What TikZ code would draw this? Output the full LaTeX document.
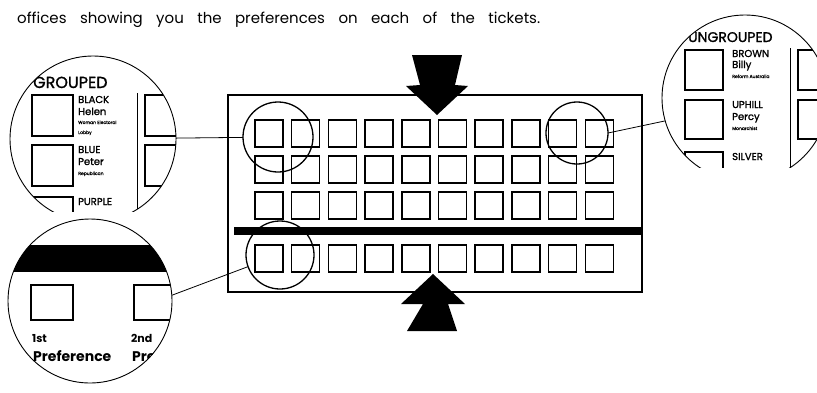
\documentclass[tikz,border=0pt]{standalone}
\usepackage{fontspec}
\setmainfont{Poppins}
\newfontfamily\ballotfont{Poppins}[FakeBold=1.3]

\tikzset{
  votebox/.style={draw,line width=1.5pt},
  lens/.style={draw,circle,line width=1.3pt,inner sep=0pt,outer sep=0pt},
  inset/.style={circle,inner sep=0pt,outer sep=0pt},
  insetbox/.style={draw,line width=1.8pt},
  head/.style={anchor=base west,inner sep=0pt},
  cand/.style={anchor=base west,inner sep=0pt,font=\ballotfont\fontsize{10}{10}\selectfont},
  party/.style={anchor=base west,inner sep=0pt,font=\ballotfont\fontsize{4.5}{5}\selectfont},
  leader/.style={draw,line width=0.8pt}
}

\begin{document}
\begin{tikzpicture}[x=1pt,y=-1pt]
\useasboundingbox (0,0) rectangle (817,392);

% sentence above the picture
\node[head,font=\fontsize{15}{17}\selectfont] (caption) at (17,23)
  {\makebox[523pt][s]{offices showing you the preferences on each of the tickets.}};

% the ballot paper
\draw[line width=2.6pt] (228,95) rectangle (642,292);
\fill (234,227) rectangle (642,235);
\foreach \r in {120,156,192,245}
  \foreach \c in {0,...,9}
    \draw[votebox] (255+36.7*\c,\r) rectangle ++(28,27);

% arrows
\fill (412,55) -- (462,55) -- (455,85) -- (468,86) -- (437,115) -- (406,86) -- (420,85) -- cycle;
\fill (433,274) -- (465,304) -- (448,304) -- (457,331) -- (407,331) -- (423,304) -- (401,304) -- cycle;

% small circles on the ballot
\node[lens,minimum size=70pt] (lensTL) at (278,137) {};
\node[lens,minimum size=62pt] (lensTR) at (577,133) {};
\node[lens,minimum size=68pt] (lensBL) at (280,255) {};

% enlarged views
\node[inset,minimum size=166pt] (bigTL) at (93,139) {};
\node[inset,minimum size=166pt] (bigTR) at (745,98) {};
\node[inset,minimum size=164pt] (bigBL) at (90,301) {};

% grouped
\begin{scope}
\clip (bigTL.center) circle (83pt);
\clip (0,0) rectangle (817,211);
\node[head,font=\ballotfont\fontsize{16}{16}\selectfont] (grouped) at (33,88) {GROUPED};
\draw[insetbox] (32,95) rectangle (73,136);
\draw[insetbox] (32,145) rectangle (73,186);
\draw[insetbox] (32,197) rectangle (73,238);
\draw[insetbox] (145,95) rectangle (186,136);
\draw[insetbox] (145,145) rectangle (186,186);
\draw[line width=0.8pt] (137,93) -- (137,215);
\node[cand] (black) at (78,103) {BLACK};
\node[cand] (helen) at (78,115) {Helen};
\node[party] (wel1) at (78,124) {Woman Electoral};
\node[party] (wel2) at (78,134) {Lobby};
\node[cand] (blue) at (78,153) {BLUE};
\node[cand] (peter) at (78,165) {Peter};
\node[party] (rep) at (78,175) {Republican};
\node[cand] (purple) at (78,205) {PURPLE};
\end{scope}
\begin{scope}
\clip (0,0) rectangle (817,211);
\draw[line width=0.9pt] (bigTL.center) circle (83pt);
\end{scope}

% ungrouped
\begin{scope}
\clip (bigTR.center) circle (83pt);
\clip (0,0) rectangle (817,167);
\node[head,font=\ballotfont\fontsize{14}{14}\selectfont] (ungrouped) at (688,42) {UNGROUPED};
\draw[insetbox] (685,50) rectangle (723,90);
\draw[insetbox] (685,100) rectangle (723,139);
\draw[insetbox] (685,152) rectangle (723,190);
\draw[insetbox] (798,50) rectangle (836,90);
\draw[insetbox] (798,100) rectangle (836,139);
\draw[line width=0.8pt] (790,48) -- (790,170);
\node[cand] (brown) at (732,57) {BROWN};
\node[cand] (billy) at (732,68) {Billy};
\node[party] (ra) at (732,78) {Reform Australia};
\node[cand] (uphill) at (732,108) {UPHILL};
\node[cand] (percy) at (732,120) {Percy};
\node[party] (mon) at (732,130) {Monarchist};
\node[cand] (silver) at (732,160) {SILVER};
\end{scope}
\begin{scope}
\clip (0,0) rectangle (817,167);
\draw[line width=0.9pt] (bigTR.center) circle (83pt);
\end{scope}

% preferences
\begin{scope}
\clip (bigBL.center) circle (82pt);
\fill (0,245) rectangle (200,272);
\draw[insetbox] (31,285) rectangle (73,320);
\draw[insetbox] (134,285) rectangle (176,320);
\node[head,font=\fontsize{11}{11}\bfseries] (first) at (32,342) {1st};
\node[head,font=\fontsize{14}{14}\bfseries] (pref1) at (33,361) {Preference};
\node[head,font=\fontsize{11}{11}\bfseries] (second) at (131,342) {2nd};
\node[head,font=\fontsize{14}{14}\bfseries] (pref2) at (132,361) {Preference};
\end{scope}
\draw[line width=0.9pt] (bigBL.center) circle (82pt);

% leader lines
\draw[leader] (lensTL) -- (bigTL);
\draw[leader] (lensTR.east) -- (bigTR.196);
\draw[leader] (lensBL.200) -- (bigBL.4);
\end{tikzpicture}
\end{document}
